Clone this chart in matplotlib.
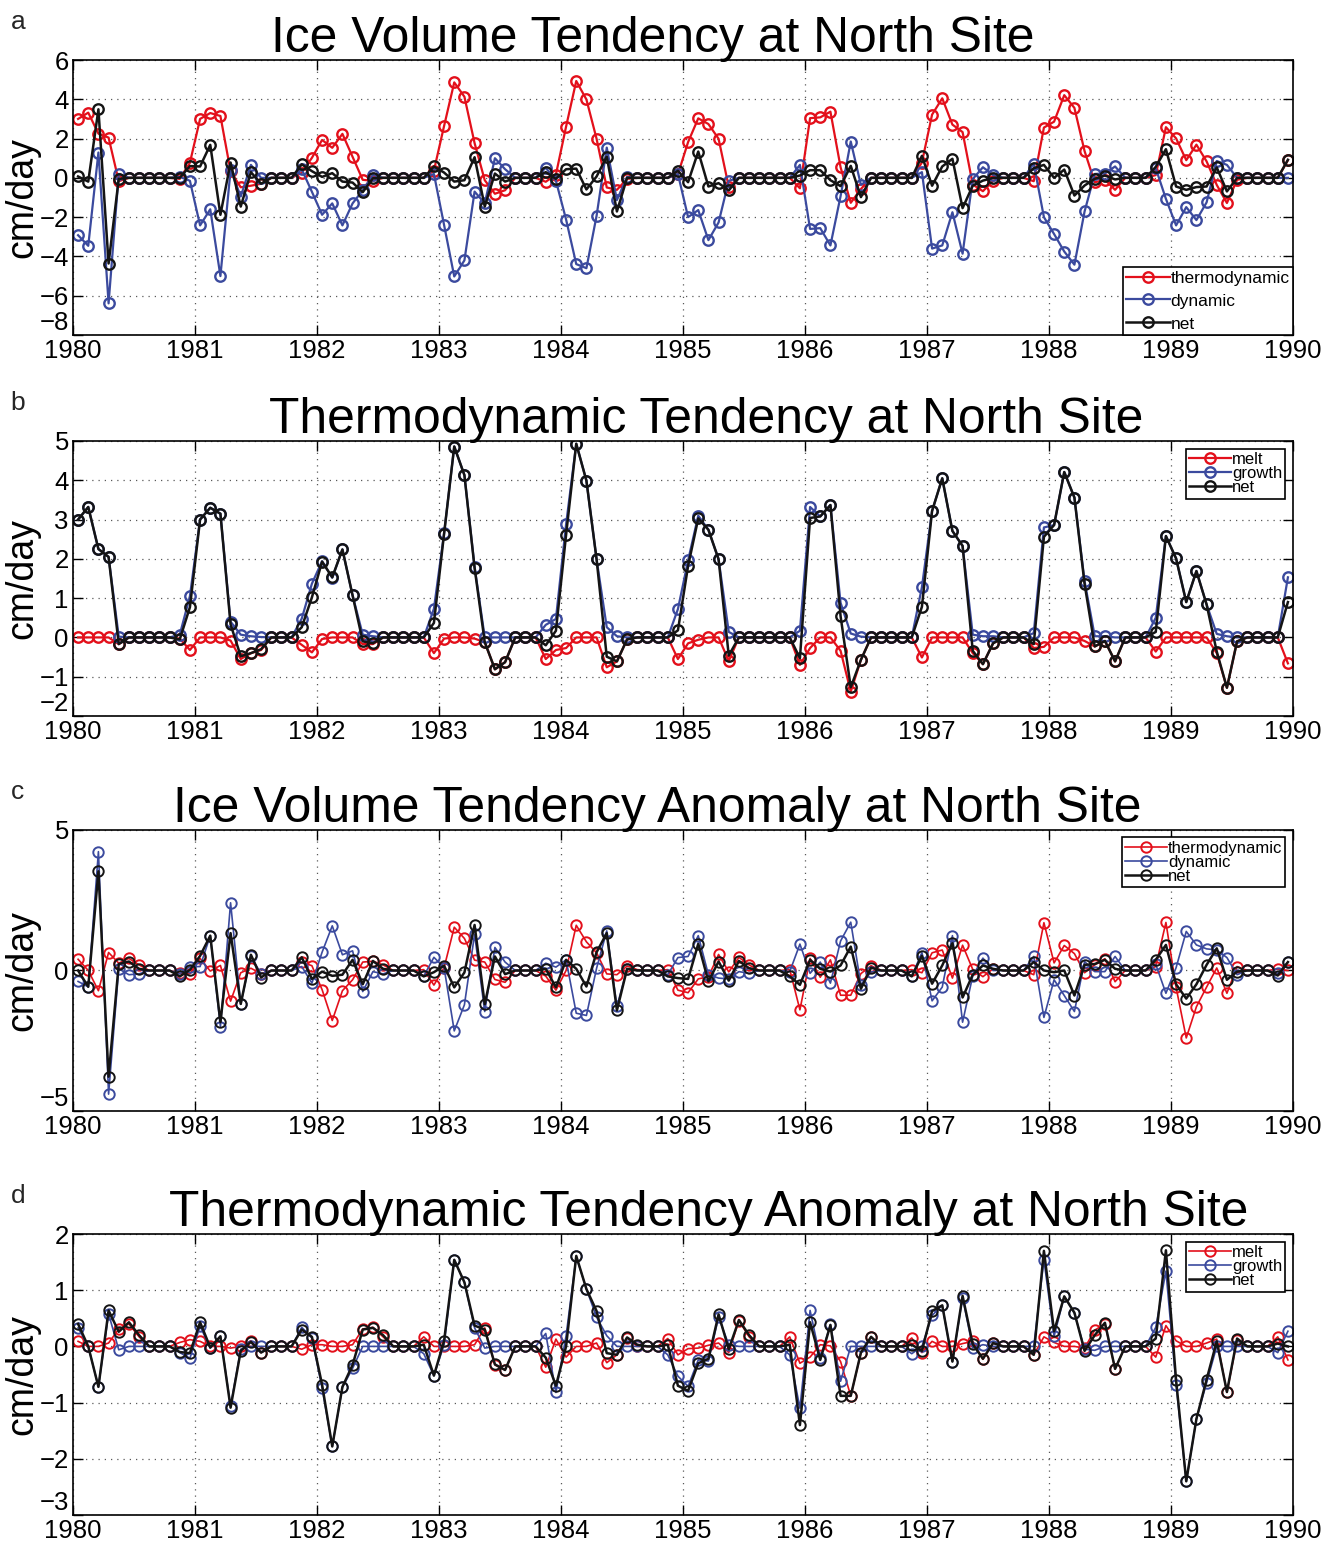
import numpy as np
import matplotlib
matplotlib.use('Agg')
import matplotlib.pyplot as plt

plt.rcParams['font.family'] = ['Liberation Sans', 'DejaVu Sans']

# monthly values 1980-1989 (12 per row)
months = np.arange(120)
t = 1980 + (months + 0.5) / 12
years = list(range(1980, 1991))

# panel a / b: thermodynamic tendency (also net of panel b)
thermo = [
    3.0, 3.32, 2.25, 2.05, -0.17, 0, 0, 0, 0, 0, -0.05, 0.77,
    3.0, 3.3, 3.15, 0.33, -0.48, -0.4, -0.3, 0, 0, 0, 0.26, 1.02,
    1.93, 1.53, 2.24, 1.07, -0.1, -0.15, 0, 0, 0, 0, 0, 0.37,
    2.64, 4.86, 4.13, 1.77, -0.12, -0.81, -0.63, 0, 0, 0, -0.2, 0.17,
    2.61, 4.93, 3.99, 1.99, -0.49, -0.61, -0.05, 0, 0, 0, 0, 0.18,
    1.82, 3.03, 2.74, 1.99, -0.46, 0, 0, 0, 0, 0, 0, -0.53,
    3.04, 3.08, 3.37, 0.54, -1.27, -0.57, 0, 0, 0, 0, 0, 0.78,
    3.22, 4.05, 2.71, 2.33, -0.34, -0.68, -0.15, 0, 0, 0, -0.17, 2.56,
    2.86, 4.21, 3.56, 1.36, -0.23, -0.09, -0.61, 0, 0, 0, 0.14, 2.58,
    2.01, 0.9, 1.69, 0.84, -0.36, -1.28, -0.1, 0, 0, 0, 0, 0.9]

dynamic = [
    -2.92, -3.46, 1.29, -6.39, 0.2, 0, 0, 0, 0, 0, 0.05, -0.15,
    -2.42, -1.6, -5.0, 0.4, -0.95, 0.66, 0, 0, 0, 0, 0.43, -0.71,
    -1.88, -1.3, -2.42, -1.3, -0.63, 0.15, 0, 0, 0, 0, 0, 0.2,
    -2.4, -5.02, -4.2, -0.7, -1.3, 1.0, 0.44, 0, 0, 0, 0.52, -0.15,
    -2.12, -4.39, -4.6, -1.93, 1.54, -1.13, 0.05, 0, 0, 0, 0, 0.2,
    -2.0, -1.64, -3.17, -2.27, -0.15, 0, 0, 0, 0, 0, 0, 0.66,
    -2.6, -2.56, -3.44, -0.93, 1.85, -0.36, 0, 0, 0, 0, 0, 0.29,
    -3.6, -3.44, -1.75, -3.86, -0.06, 0.54, 0.15, 0, 0, 0, 0.73, -2.0,
    -2.86, -3.75, -4.42, -1.71, 0.2, 0.22, 0.58, 0, 0, 0, 0.49, -1.07,
    -2.42, -1.49, -2.15, -1.25, 0.86, 0.66, 0, 0, 0, 0, 0, 0]

net_a = [
    0.07, -0.19, 3.49, -4.36, -0.05, 0, 0, 0, 0, 0, 0, 0.6,
    0.58, 1.68, -1.88, 0.78, -1.46, 0.29, -0.3, 0, 0, 0, 0.69, 0.34,
    0.05, 0.24, -0.19, -0.24, -0.73, -0.02, 0, 0, 0, 0, 0, 0.58,
    0.27, -0.19, -0.12, 1.05, -1.46, 0.22, -0.19, 0, 0, 0, 0.29, -0.05,
    0.44, 0.47, -0.59, 0.07, 1.08, -1.71, 0, 0, 0, 0, 0, 0.36,
    -0.22, 1.34, -0.44, -0.27, -0.64, 0, 0, 0, 0, 0, 0, 0.12,
    0.39, 0.39, -0.12, -0.42, 0.61, -0.98, 0, 0, 0, 0, 0, 1.12,
    -0.4, 0.58, 0.97, -1.54, -0.4, -0.14, 0, 0, 0, 0, 0.49, 0.66,
    0, 0.42, -0.9, -0.39, -0.05, 0.12, -0.08, 0, 0, 0, 0.56, 1.46,
    -0.44, -0.61, -0.47, -0.44, 0.53, -0.69, 0, 0, 0, 0, 0, 0.92]

melt = [
    0, 0, 0, 0, -0.17, 0, 0, 0, 0, 0, -0.03, -0.32,
    0, 0, 0, -0.08, -0.55, -0.4, -0.32, 0, 0, 0, -0.19, -0.38,
    -0.04, 0, 0, 0, -0.17, -0.17, 0, 0, 0, 0, 0, -0.4,
    -0.03, 0, 0, -0.03, -0.12, -0.81, -0.63, 0, 0, 0, -0.55, -0.32,
    -0.27, 0, 0, 0, -0.76, -0.61, -0.05, 0, 0, 0, 0, -0.55,
    -0.15, -0.06, 0, 0, -0.6, 0, 0, 0, 0, 0, 0, -0.7,
    -0.27, 0, 0, -0.34, -1.38, -0.57, 0, 0, 0, 0, 0, -0.51,
    0, 0, 0, 0, -0.4, -0.68, -0.15, 0, 0, 0, -0.27, -0.24,
    0, 0, 0, -0.09, -0.23, -0.09, -0.61, 0, 0, 0, -0.36, 0,
    0, 0, 0, 0, -0.4, -1.28, -0.1, 0, 0, 0, 0, -0.66]

growth = [
    3.0, 3.32, 2.25, 2.05, 0.02, 0, 0, 0, 0, 0, 0.07, 1.05,
    3.0, 3.3, 3.15, 0.4, 0.07, 0.03, 0.01, 0, 0, 0, 0.48, 1.37,
    1.94, 1.52, 2.24, 1.07, 0.07, 0.03, 0, 0, 0, 0, 0, 0.73,
    2.65, 4.86, 4.13, 1.8, 0, 0, 0, 0, 0, 0, 0.32, 0.47,
    2.88, 4.93, 3.99, 1.99, 0.26, 0.03, 0, 0, 0, 0, 0, 0.72,
    1.96, 3.1, 2.74, 1.99, 0.14, 0, 0, 0, 0, 0, 0, 0.17,
    3.32, 3.08, 3.37, 0.88, 0.1, 0.02, 0, 0, 0, 0, 0, 1.28,
    3.22, 4.05, 2.71, 2.33, 0.07, 0.03, 0.03, 0, 0, 0, 0.11, 2.8,
    2.86, 4.21, 3.56, 1.43, 0.03, 0.03, 0, 0, 0, 0, 0.5, 2.58,
    2.01, 0.9, 1.69, 0.84, 0.09, 0.03, 0, 0, 0, 0, 0, 1.53]

# panel c / d: anomalies
thermo_anom = [
    0.4, 0, -0.72, 0.64, 0.26, 0.43, 0.2, 0, 0, 0, -0.1, -0.12,
    0.43, -0.02, 0.18, -1.09, -0.08, 0.08, -0.11, 0, 0, 0, 0.3, 0.17,
    -0.68, -1.78, -0.72, -0.33, 0.3, 0.33, 0.2, 0, 0, 0, 0.03, -0.52,
    0.1, 1.54, 1.14, 0.37, 0.3, -0.32, -0.42, 0, 0, 0, -0.2, -0.7,
    0, 1.61, 1.02, 0.63, -0.12, -0.15, 0.16, 0.03, 0, 0, 0.03, -0.7,
    -0.79, -0.3, -0.22, 0.57, -0.05, 0.47, 0.2, 0, 0, 0, 0.03, -1.4,
    0.43, -0.24, 0.38, -0.88, -0.88, -0.11, 0.17, 0, 0, 0, 0.03, -0.08,
    0.63, 0.73, -0.27, 0.9, 0.04, -0.22, 0.06, 0, 0, 0, -0.15, 1.7,
    0.27, 0.89, 0.6, -0.08, 0.2, 0.42, -0.4, 0, 0, 0, 0.14, 1.71,
    -0.6, -2.4, -1.29, -0.59, 0.09, -0.81, 0.14, 0, 0, 0, 0.05, 0]

dynamic_anom = [
    -0.39, -0.58, 4.23, -4.4, 0.06, -0.15, -0.12, 0, 0, 0, -0.12, 0.14,
    0.14, 1.24, -2.0, 2.41, -1.2, 0.5, -0.12, 0, 0, 0, 0.14, -0.45,
    0.65, 1.59, 0.56, 0.7, -0.75, -0.04, -0.12, 0, 0, 0, -0.2, 0.47,
    0.1, -2.15, -1.22, 1.29, -1.46, 0.82, 0.3, 0, 0, 0, 0.26, 0.12,
    0.38, -1.52, -1.6, 0.08, 1.41, -1.28, 0.06, 0, 0, 0, -0.15, 0.46,
    0.5, 1.24, -0.15, -0.27, -0.3, -0.04, -0.1, 0, 0, 0, -0.04, 0.94,
    -0.1, 0.3, -0.45, 1.05, 1.72, -0.51, -0.05, 0, 0, 0, -0.2, 0.64,
    -1.08, -0.59, 1.24, -1.84, -0.19, 0.44, 0, 0, 0, 0, 0.5, -1.67,
    -0.33, -0.89, -1.46, 0.32, -0.04, -0.04, 0.5, 0, 0, 0, 0.22, -0.81,
    0.1, 1.39, 0.91, 0.77, 0.73, 0.46, -0.15, 0, 0, 0, -0.1, 0.3]

net_anom = [
    0, -0.58, 3.53, -3.78, 0.23, 0.32, 0.06, 0, 0, 0, -0.21, 0.02,
    0.52, 1.24, -1.84, 1.33, -1.19, 0.56, -0.25, 0, 0, 0, 0.47, -0.3,
    -0.04, -0.19, -0.15, 0.38, -0.49, 0.34, 0.06, 0, 0, 0, -0.21, -0.06,
    0.17, -0.6, -0.07, 1.62, -1.2, 0.5, -0.13, 0, 0, 0, 0.06, -0.6,
    0.38, 0.06, -0.57, 0.65, 1.33, -1.42, 0.06, 0, 0, 0, -0.21, -0.27,
    -0.3, 0.95, -0.39, 0.32, -0.36, 0.34, 0.08, 0, 0, 0, -0.21, -0.51,
    0.38, 0.06, -0.04, 0.18, 0.85, -0.65, 0.1, 0, 0, 0, -0.21, 0.52,
    -0.47, 0.18, 0.97, -0.96, -0.15, 0.18, 0.06, 0, 0, 0, 0.3, 0,
    -0.06, 0, -0.89, 0.2, 0.23, 0.38, 0.06, 0, 0, 0, 0.38, 0.91,
    -0.49, -1.0, -0.49, 0.2, 0.79, -0.33, -0.04, 0, 0, 0, -0.18, 0.3]

melt_anom = [
    0.09, 0, 0, 0.06, 0.31, 0.4, 0.17, 0, 0, 0, 0.07, 0.12,
    0.09, 0, 0, -0.03, 0, 0.1, -0.11, 0, 0, 0, -0.05, 0.03,
    0.03, 0, 0, 0.03, 0.31, 0.34, 0.17, 0, 0, 0, 0.17, 0,
    0, 0, 0, 0.03, 0.33, -0.33, -0.42, 0, 0, 0, -0.37, 0.13,
    -0.19, 0, 0, 0.06, -0.29, -0.15, 0.15, 0, 0, 0, 0.14, -0.15,
    -0.04, -0.03, 0.02, 0.06, -0.11, 0.46, 0.17, 0, 0, 0, 0.17, -0.3,
    -0.19, 0.03, 0.01, -0.27, -0.88, -0.12, 0.17, 0, 0, 0, 0.15, -0.11,
    0.09, 0, 0, 0.05, 0.09, -0.23, 0.06, 0, 0, 0, -0.15, 0.17,
    0.07, 0, 0, -0.03, 0.29, 0.4, -0.4, 0, 0, 0, -0.19, 0.37,
    0.1, 0, 0, 0.06, 0.13, -0.82, 0.11, 0, 0, 0, 0.17, -0.24]

growth_anom = [
    0.33, 0, -0.72, 0.58, -0.06, 0, 0, 0, 0, 0, -0.11, -0.21,
    0.36, -0.03, 0.18, -1.06, -0.05, 0, 0, 0, 0, 0, 0.34, 0.15,
    -0.74, -1.78, -0.73, -0.39, 0, 0, 0, 0, 0, 0, -0.13, -0.52,
    0.03, 1.54, 1.14, 0.33, -0.03, 0, 0, 0, 0, 0, 0.23, -0.82,
    0.19, 1.6, 1.02, 0.52, 0.19, 0, 0, 0, 0, 0, -0.15, -0.53,
    -0.71, -0.24, -0.26, 0.52, 0.03, 0, 0, 0, 0, 0, -0.15, -1.1,
    0.64, -0.21, 0.39, -0.62, 0, 0, 0, 0, 0, 0, -0.13, 0,
    0.55, 0.73, -0.27, 0.87, -0.03, 0.03, 0, 0, 0, 0, 0, 1.54,
    0.18, 0.89, 0.59, -0.05, -0.07, 0, 0, 0, 0, 0, 0.34, 1.34,
    -0.68, -2.4, -1.29, -0.65, 0, 0, 0, 0, 0, 0, -0.11, 0.27]

RED = '#e3101b'
BLUE = '#3b4a9e'
BLACK = '#141414'
COLORS = [RED, BLUE, BLACK]

fig = plt.figure(figsize=(13.37, 15.41), dpi=100)
W, H = 1337.0, 1541.0


def panel(top, bottom, series, labels, ylim, yticks, title, tx, letter,
          leg_loc, lw, mew, legsize, legspace):
    ax = fig.add_axes([73 / W, 1 - bottom / H, 1220 / W, (bottom - top) / H])
    for y, c, lab in zip(series, COLORS, labels):
        lwi = lw if c != BLACK else max(lw, 1.8)
        ax.plot(t, y, '-o', color=c, mfc='none', mec=c, ms=7.5, mew=mew,
                lw=lwi, label=lab)
    ax.set_xlim(1980, 1990)
    ax.set_ylim(*ylim)
    ax.set_xticks(years)
    ax.set_xticklabels([str(y) for y in years])
    ax.set_yticks(yticks)
    ax.grid(True, ls=(0, (1, 4)), color='0.35', lw=0.9)
    ax.tick_params(direction='in', length=7, width=1, top=True, right=True,
                   labelsize=18.5, pad=3)
    # lowest y label sits just above the axis bottom, as in the original
    ax.get_yticklabels()[0].set_verticalalignment('bottom')
    for s in ax.spines.values():
        s.set_linewidth(1.2)
    ax.set_ylabel('cm/day', fontsize=27, labelpad=-0.5)
    ax.set_title(title, fontsize=35.8, x=tx, pad=6)
    fig.text(18 / W, 1 - (top - 38) / H, letter, fontsize=19, ha='center',
             va='center', color='0.15')
    leg = ax.legend(loc=leg_loc, fontsize=legsize, frameon=True,
                    fancybox=False, edgecolor='black', framealpha=1,
                    handlelength=2.5, handletextpad=0.05,
                    labelspacing=legspace, borderpad=0.2,
                    borderaxespad=0.0 if leg_loc == 'lower right' else 0.45)
    leg.get_frame().set_linewidth(1.2)
    return ax


panel(60, 335, [thermo, dynamic, net_a], ['thermodynamic', 'dynamic', 'net'],
      (-8, 6), range(-8, 7, 2), 'Ice Volume Tendency at North Site', 0.475,
      'a', 'lower right', 1.6, 1.7, 12.5, 0.45)
panel(441, 716, [melt, growth, thermo], ['melt', 'growth', 'net'],
      (-2, 5), range(-2, 6), 'Thermodynamic Tendency at North Site', 0.519,
      'b', 'upper right', 1.6, 1.7, 12, -0.05)
panel(830, 1111, [thermo_anom, dynamic_anom, net_anom],
      ['thermodynamic', 'dynamic', 'net'], (-5, 5), [-5, 0, 5],
      'Ice Volume Tendency Anomaly at North Site', 0.479, 'c', 'upper right',
      1.2, 1.4, 12, -0.05)
panel(1234, 1515, [melt_anom, growth_anom, thermo_anom],
      ['melt', 'growth', 'net'], (-3, 2), range(-3, 3),
      'Thermodynamic Tendency Anomaly at North Site', 0.521, 'd',
      'upper right', 1.2, 1.4, 12, -0.05)

fig.savefig('out.png', dpi=100)
